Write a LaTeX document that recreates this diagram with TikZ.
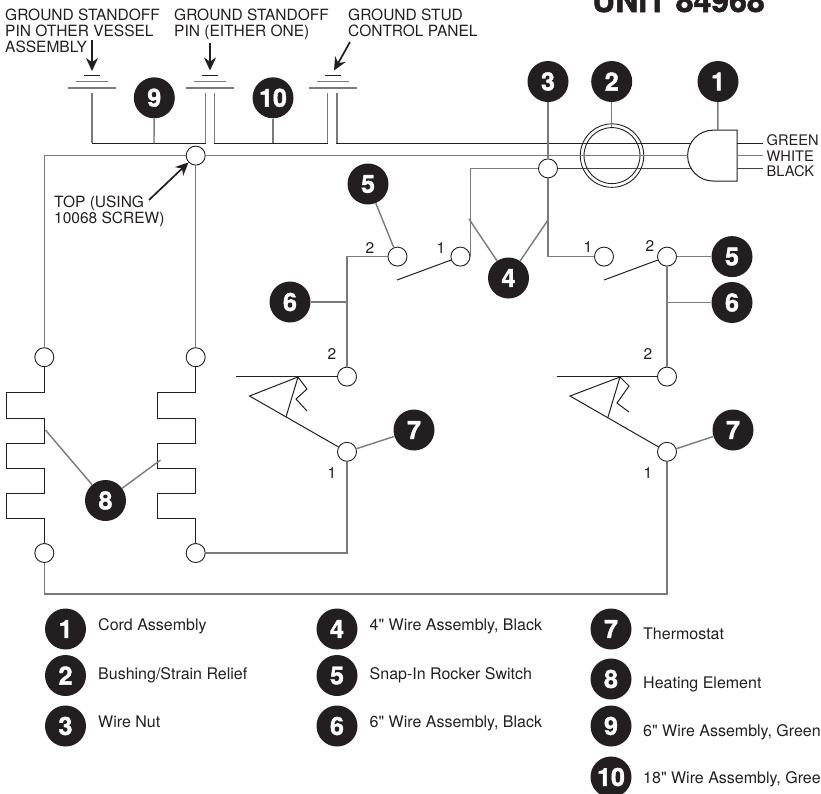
\documentclass[tikz,border=0pt]{standalone}
\usepackage{fontspec}
\setmainfont[Ligatures=TeXOff]{TeX Gyre Heros}
\newfontfamily\heavyfont[BoldFeatures={FakeBold=1.6}]{TeX Gyre Heros}
\usetikzlibrary{arrows.meta}
\definecolor{ink}{HTML}{231F20}
\definecolor{wiregray}{HTML}{7A7A7A}
\tikzset{
  x=1pt,y=-1pt,
  every node/.style={text=ink},
  conn/.style={circle,draw=ink,line width=0.9pt,minimum size=19pt,inner sep=0pt},
  balloon/.style={circle,fill=ink,minimum size=41pt,inner sep=0pt,text=white,font=\fontsize{25}{25}\heavyfont\bfseries\selectfont},
  lbl/.style={anchor=base west,inner sep=0pt,font=\fontsize{15.5}{16}\selectfont,align=left},
  cordlbl/.style={anchor=base west,inner sep=0pt,font=\fontsize{14.6}{16}\selectfont},
  pinno/.style={anchor=base,inner sep=0pt,font=\fontsize{15.5}{16}\selectfont},
  legend/.style={anchor=base west,inner sep=0pt,font=\fontsize{16}{16}\selectfont},
  wire/.style={draw=wiregray,line width=1.5pt},
  darkwire/.style={draw=ink!85!white,line width=1.1pt},
  fine/.style={draw=ink,line width=1pt},
  lead/.style={draw=wiregray,line width=1.4pt},
  pointer/.style={draw=ink,line width=1.7pt,-{Stealth[length=13pt,width=12pt]}},
}
\begin{document}
\begin{tikzpicture}
\useasboundingbox (0,0) rectangle (821,793);

% ---- title and labels
\node[anchor=base west,inner sep=0pt,font=\fontsize{32}{32}\heavyfont\bfseries\selectfont] (title) at (592,12) {UNIT 84968};
\node[lbl] (lA) at (5,20) {GROUND STANDOFF};
\node[lbl] (lA2) at (5,36) {PIN OTHER VESSEL};
\node[lbl] (lA3) at (5,52) {ASSEMBLY};
\node[lbl] (lB) at (174,20) {GROUND STANDOFF};
\node[lbl] (lB2) at (174,36) {PIN (EITHER ONE)};
\node[lbl] (lC) at (348,20) {GROUND STUD};
\node[lbl] (lC2) at (348,36) {CONTROL PANEL};
\node[lbl] (lT) at (54,207) {TOP (USING};
\node[lbl] (lT2) at (54,223) {10068 SCREW)};
\node[cordlbl] (lG) at (766.5,145) {GREEN};
\node[cordlbl] (lW) at (766.5,161) {WHITE};
\node[cordlbl] (lK) at (766.5,176.5) {BLACK};

% ---- connection circles
\node[conn] (cTop) at (195.7,155.6) {};
\node[conn] (cNut) at (548,168.4) {};
\node[conn] (cS2L) at (397.5,256.6) {};
\node[conn] (cS1L) at (460.4,256.6) {};
\node[conn] (cS1R) at (604,256.6) {};
\node[conn] (cS2R) at (667,256.6) {};
\node[conn] (cT2L) at (347,376.6) {};
\node[conn] (cT2R) at (667,376.6) {};
\node[conn] (cT1L) at (347,451.8) {};
\node[conn] (cT1R) at (667,451.8) {};
\node[conn] (cHa) at (44.3,357.2) {};
\node[conn] (cHb) at (195.7,357.2) {};
\node[conn] (cHc) at (44.3,553) {};
\node[conn] (cHd) at (195.7,553) {};
\coordinate (botL) at (44.3,594);
\coordinate (botR) at (667,594);

% ---- bushing
\node[circle,draw=ink,line width=0.9pt,minimum size=63.5pt,inner sep=0pt] (bushO) at (612,155.6) {};
\node[circle,draw=ink,line width=0.9pt,minimum size=56pt,inner sep=0pt] (bushI) at (612,155.6) {};

% ---- plug
\coordinate (plugC) at (713,155.6);
\draw[fine] (737,130.2) -- (713,130.2) arc[start angle=-90,end angle=-270,radius=25.4] -- (737,181) -- cycle;
\coordinate (plugTop) at (717.8,130.2);
\coordinate (pGi) at (691,143.2);
\coordinate (pWi) at (687.6,155.6);
\coordinate (pKi) at (691,168.4);
\coordinate (pGo) at (737,143.2);
\coordinate (pWo) at (737,155.6);
\coordinate (pKo) at (737,168.4);

% ---- ground symbols
\foreach \n/\cx in {gA/92,gB/210,gC/333}{
  \coordinate (\n) at (\cx,88);
  \draw[wire,line width=1.2pt] (\cx-24,88) -- (\cx+24,88);
  \draw[wire,line width=1.2pt] (\cx-16,81.3) -- (\cx+16,81.3);
  \draw[fine] (\cx-8,75.3) -- (\cx+8,75.3);
}
\coordinate (g1a) at (92,93);
\coordinate (g1b) at (205.3,93);
\coordinate (g2a) at (214.3,93);
\coordinate (g2b) at (327.7,93);
\coordinate (g3a) at (337,93);
\coordinate (j1) at (154,143.2);
\coordinate (j2) at (273,143.2);

% ---- ground wires
\draw[wire] (g1a) -- (92,143.2);
\draw[wire] (g1b) -- (205.3,143.2);
\draw[wire] (g2a) -- (214.3,143.2);
\draw[wire] (g2b) -- (327.7,143.2);
\draw[wire] (g3a) -- (337,143.2);
\draw[fine] (92,143.2) -- (205.9,143.2);
\draw[fine] (213.7,143.2) -- (328.3,143.2);
\draw[fine] (336.4,143.2) -- (pGi);
\draw[fine] (pGo) -- (763,143.2);

% ---- main wires
\draw[wire] (cTop.east) -- (pWi);
\draw[wire] (pWo) -- (763,155.6);
\draw[wire] (cTop.west) -| (cHa.north);
\draw[wire] (cTop.south) -- (cHb.north);
\draw[darkwire] (cNut.east) -- (pKi);
\draw[darkwire] (pKo) -- (763,168.4);
\draw[wire] (cS1L.east) |- (cNut.west);
\draw[wire] (cNut.south) |- (cS1R.west);
\draw[wire] (cS2L.west) -| (cT2L.north);
\draw[wire] (cS2R.south) -- (cT2R.north);
\draw[wire] (cHd.east) -| (cT1L.south);
\draw[wire] (cHc.south) -- (botL) -- (botR) -- (cT1R.south);

% ---- heating elements
\foreach \a/\b in {cHa/cHc,cHb/cHd}{
  \draw[fine,line join=miter] (\a.south) -- ++(0,25.5) -- ++(-38,0) -- ++(0,25.5) -- ++(38,0)
    -- ++(0,25) -- ++(-38,0) -- ++(0,25) -- ++(38,0) -- ++(0,25) -- ++(-38,0) -- ++(0,25) -- ++(38,0) -- (\b.north);
}

% ---- switches
\coordinate (swL) at (397,280);
\coordinate (swR) at (604,280);
\draw[fine] (swL) -- (cS1L);
\draw[fine] (swR) -- (cS2R);

% ---- thermostats
\coordinate (thL) at (236,376.6);
\coordinate (thR) at (556.5,376.6);
\coordinate (apL) at (249.5,396);
\coordinate (apR) at (570,396);
\draw[fine] (thL) -- (cT2L.west);
\draw[fine] (thR) -- (cT2R.west);
\draw[fine,line join=miter] (298,377) -- (apL) -- (cT1L);
\draw[fine,line join=miter] (620,377) -- (apR) -- (cT1R);
\draw[fine] (286,417) -- (298,377) -- (307,389) -- (296,399) -- (307,411);
\draw[fine] (608,417) -- (620,377) -- (629,386) -- (617,403) -- (629,412);

% ---- pin numbers
\node[pinno] (n1) at (370,253) {2};
\node[pinno] (n2) at (441,253) {1};
\node[pinno] (n3) at (332,359) {2};
\node[pinno] (n4) at (332,478) {1};
\node[pinno] (n5) at (588,252) {1};
\node[pinno] (n6) at (650,251) {2};
\node[pinno] (n7) at (648,359) {2};
\node[pinno] (n8) at (648,478) {1};

% ---- call-out balloons
\node[balloon] (b1) at (718,81.5) {1};
\node[balloon] (b2) at (611.7,81.5) {2};
\node[balloon] (b3) at (548,81.5) {3};
\node[balloon] (b4) at (508.5,278) {4};
\node[balloon] (b5a) at (368,184) {5};
\node[balloon] (b5b) at (732,256.6) {5};
\node[balloon] (b6a) at (290,302) {6};
\node[balloon] (b6b) at (732,302.5) {6};
\node[balloon] (b7a) at (414,430) {7};
\node[balloon] (b7b) at (733,430) {7};
\node[balloon] (b8) at (105.5,500.5) {8};
\node[balloon] (b9) at (154.3,97.8) {9};
\node[balloon] (b10) at (273,97.8) {10};

% ---- leaders
\coordinate (j4a) at (469,219);
\coordinate (j4b) at (548,220);
\coordinate (j6a) at (347,302);
\coordinate (j6b) at (667,302.5);
\coordinate (j8a) at (45.5,430);
\coordinate (j8b) at (160.5,460);
\coordinate (bushTop) at (611.7,127);
\draw[lead] (b1) -- (plugTop);
\draw[lead] (b2) -- (bushTop);
\draw[lead] (b3) -- (cNut.north);
\draw[lead] (b4) -- (j4a);
\draw[lead] (b4) -- (j4b);
\draw[lead] (b5a) -- (cS2L);
\draw[lead] (b5b) -- (cS2R.east);
\draw[lead] (b6a) -- (j6a);
\draw[lead] (b6b) -- (j6b);
\draw[lead] (b7a) -- (cT1L);
\draw[lead] (b7b) -- (cT1R);
\draw[lead] (b8) -- (j8a);
\draw[lead] (b8) -- (j8b);
\draw[lead] (b9) -- (j1);
\draw[lead] (b10) -- (j2);

% ---- pointer arrows
\coordinate (tA) at (92,71);
\coordinate (tB) at (210,70.5);
\coordinate (tC) at (334,70.5);
\coordinate (sA) at (92,40);
\coordinate (sB) at (210,43);
\coordinate (sC) at (350,42);
\coordinate (sT) at (149,200);
\draw[pointer] (sA) -- (tA);
\draw[pointer] (sB) -- (tB);
\draw[pointer] (sC) -- (tC);
\draw[pointer] (sT) -- (cTop);

% ---- legend
\node[balloon] (k1) at (65.5,629) {1};
\node[balloon] (k2) at (65.5,675.5) {2};
\node[balloon] (k3) at (65.5,726) {3};
\node[balloon] (k4) at (337,629) {4};
\node[balloon] (k5) at (337,675.5) {5};
\node[balloon] (k6) at (337,726) {6};
\node[balloon] (k7) at (611,629) {7};
\node[balloon] (k8) at (611,679) {8};
\node[balloon] (k9) at (611,726) {9};
\node[balloon] (k10) at (611,777) {10};
\node[legend] (t1) at (98,630) {Cord Assembly};
\node[legend] (t2) at (98,679) {Bushing/Strain Relief};
\node[legend] (t3) at (98,727) {Wire Nut};
\node[legend] (t4) at (369.5,630) {4" Wire Assembly, Black};
\node[legend] (t5) at (369.5,679) {Snap-In Rocker Switch};
\node[legend] (t6) at (369.5,727) {6" Wire Assembly, Black};
\node[legend] (t7) at (643,639) {Thermostat};
\node[legend] (t8) at (643,688) {Heating Element};
\node[legend] (t9) at (643,736) {6" Wire Assembly, Green};
\node[legend] (t10) at (643,783) {18" Wire Assembly, Green};
\end{tikzpicture}
\end{document}
